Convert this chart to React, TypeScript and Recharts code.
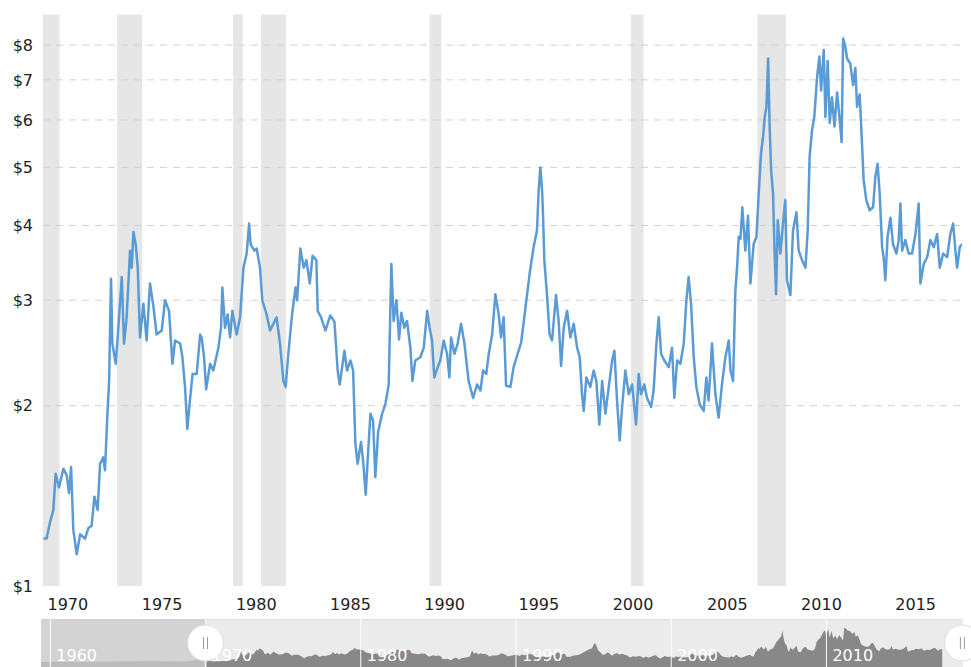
import {
  LineChart,
  Line,
  AreaChart,
  Area,
  XAxis,
  YAxis,
  ReferenceArea,
  ReferenceLine,
  ReferenceDot,
} from "recharts";

// decimal year of each reading
const years = [
  1968.7, 1968.87, 1969.06, 1969.23, 1969.35, 1969.53, 1969.76, 1969.94, 1970.06, 1970.17,
  1970.29, 1970.47, 1970.65, 1970.91, 1971.09, 1971.26, 1971.41, 1971.58, 1971.71, 1971.88,
  1971.97, 1972.1, 1972.19, 1972.24, 1972.29, 1972.36, 1972.54, 1972.68, 1972.86, 1972.98,
  1973.12, 1973.3, 1973.39, 1973.48, 1973.6, 1973.71, 1973.83, 1974.01, 1974.18, 1974.36,
  1974.54, 1974.71, 1974.98, 1975.16, 1975.37, 1975.55, 1975.69, 1975.96, 1976.08, 1976.22,
  1976.34, 1976.49, 1976.62, 1976.84, 1977.02, 1977.1, 1977.23, 1977.34, 1977.55, 1977.72,
  1977.99, 1978.13, 1978.2, 1978.34, 1978.48, 1978.61, 1978.73, 1978.96, 1979.14, 1979.32,
  1979.49, 1979.62, 1979.7, 1979.9, 1980.02, 1980.2, 1980.32, 1980.55, 1980.73, 1980.91,
  1981.08, 1981.26, 1981.44, 1981.56, 1981.7, 1981.9, 1982.08, 1982.17, 1982.34, 1982.52,
  1982.66, 1982.84, 1982.99, 1983.19, 1983.26, 1983.44, 1983.67, 1983.93, 1984.15, 1984.32,
  1984.43, 1984.68, 1984.82, 1985.0, 1985.14, 1985.26, 1985.38, 1985.56, 1985.67, 1985.81,
  1985.91, 1986.06, 1986.2, 1986.32, 1986.47, 1986.68, 1986.85, 1987.03, 1987.17, 1987.29,
  1987.44, 1987.58, 1987.7, 1987.86, 1988.0, 1988.18, 1988.29, 1988.44, 1988.71, 1988.89,
  1989.07, 1989.2, 1989.33, 1989.45, 1989.63, 1989.77, 1989.95, 1990.13, 1990.25, 1990.34,
  1990.52, 1990.69, 1990.87, 1991.05, 1991.27, 1991.51, 1991.72, 1991.9, 1992.04, 1992.21,
  1992.34, 1992.52, 1992.69, 1992.87, 1992.99, 1993.13, 1993.26, 1993.49, 1993.66, 1993.87,
  1994.06, 1994.28, 1994.51, 1994.72, 1994.9, 1994.99, 1995.08, 1995.17, 1995.22, 1995.29,
  1995.44, 1995.57, 1995.7, 1995.79, 1995.91, 1996.05, 1996.18, 1996.32, 1996.5, 1996.67,
  1996.85, 1997.03, 1997.17, 1997.29, 1997.38, 1997.52, 1997.73, 1997.91, 1998.05, 1998.21,
  1998.36, 1998.53, 1998.71, 1998.89, 1999.01, 1999.15, 1999.29, 1999.42, 1999.59, 1999.77,
  1999.95, 2000.16, 2000.3, 2000.42, 2000.6, 2000.74, 2000.96, 2001.09, 2001.24, 2001.36,
  2001.49, 2001.66, 2001.89, 2002.07, 2002.19, 2002.34, 2002.51, 2002.69, 2002.83, 2002.95,
  2003.08, 2003.22, 2003.36, 2003.54, 2003.75, 2003.89, 2004.01, 2004.19, 2004.37, 2004.54,
  2004.72, 2004.9, 2005.08, 2005.17, 2005.31, 2005.43, 2005.52, 2005.61, 2005.7, 2005.8,
  2005.96, 2006.1, 2006.23, 2006.4, 2006.55, 2006.67, 2006.79, 2006.9, 2006.99, 2007.08,
  2007.17, 2007.25, 2007.33, 2007.43, 2007.5, 2007.59, 2007.68, 2007.82, 2007.96, 2008.08,
  2008.17, 2008.35, 2008.49, 2008.67, 2008.79, 2008.97, 2009.15, 2009.27, 2009.37, 2009.5,
  2009.62, 2009.77, 2009.89, 2009.98, 2010.12, 2010.21, 2010.33, 2010.44, 2010.56, 2010.69,
  2010.83, 2010.97, 2011.07, 2011.15, 2011.27, 2011.36, 2011.53, 2011.68, 2011.8, 2011.89,
  2012.03, 2012.16, 2012.24, 2012.38, 2012.56, 2012.74, 2012.86, 2012.98, 2013.09, 2013.22,
  2013.3, 2013.39, 2013.51, 2013.66, 2013.8, 2013.98, 2014.1, 2014.19, 2014.28, 2014.45,
  2014.63, 2014.81, 2014.99, 2015.16, 2015.25, 2015.43, 2015.61, 2015.78, 2015.96, 2016.14,
  2016.28, 2016.46, 2016.67, 2016.84, 2016.99, 2017.11, 2017.2, 2017.34, 2017.46,
];

// price in dollars per bushel, same order as years
const prices = [
  1.2, 1.2, 1.28, 1.34, 1.54, 1.46, 1.57, 1.53, 1.43, 1.58,
  1.24, 1.13, 1.22, 1.2, 1.25, 1.26, 1.41, 1.34, 1.6, 1.64,
  1.56, 1.94, 2.2, 2.7, 3.26, 2.54, 2.35, 2.7, 3.28, 2.54,
  2.81, 3.63, 3.4, 3.9, 3.72, 3.4, 2.6, 2.96, 2.57, 3.2,
  2.93, 2.63, 2.67, 3.0, 2.88, 2.35, 2.57, 2.54, 2.41, 2.15,
  1.83, 2.06, 2.26, 2.26, 2.63, 2.6, 2.41, 2.13, 2.35, 2.29,
  2.5, 2.7, 3.15, 2.7, 2.84, 2.6, 2.88, 2.63, 2.81, 3.4,
  3.59, 4.03, 3.72, 3.63, 3.66, 3.4, 3.0, 2.84, 2.67, 2.74,
  2.81, 2.54, 2.2, 2.15, 2.44, 2.84, 3.15, 3.0, 3.66, 3.4,
  3.5, 3.2, 3.56, 3.5, 2.88, 2.81, 2.67, 2.83, 2.76, 2.29,
  2.17, 2.47, 2.29, 2.38, 2.29, 1.73, 1.6, 1.74, 1.62, 1.42,
  1.62, 1.94, 1.89, 1.52, 1.81, 1.94, 2.01, 2.17, 3.45, 2.77,
  3.0, 2.58, 2.86, 2.7, 2.77, 2.5, 2.2, 2.38, 2.41, 2.5,
  2.88, 2.7, 2.57, 2.23, 2.32, 2.38, 2.57, 2.44, 2.23, 2.6,
  2.44, 2.54, 2.74, 2.54, 2.2, 2.06, 2.17, 2.12, 2.29, 2.26,
  2.44, 2.63, 3.07, 2.84, 2.6, 2.81, 2.16, 2.15, 2.32, 2.44,
  2.55, 2.9, 3.32, 3.68, 3.92, 4.58, 5.0, 4.58, 4.18, 3.5,
  3.04, 2.63, 2.57, 2.77, 3.06, 2.77, 2.33, 2.7, 2.88, 2.6,
  2.74, 2.5, 2.41, 2.09, 1.96, 2.23, 2.15, 2.29, 2.2, 1.86,
  2.2, 1.94, 2.15, 2.38, 2.47, 2.04, 1.75, 1.99, 2.29, 2.09,
  2.17, 1.86, 2.26, 2.09, 2.17, 2.06, 1.99, 2.12, 2.54, 2.81,
  2.44, 2.38, 2.32, 2.5, 2.06, 2.38, 2.35, 2.54, 3.0, 3.28,
  2.96, 2.41, 2.15, 2.01, 1.96, 2.23, 2.04, 2.54, 2.09, 1.91,
  2.17, 2.41, 2.57, 2.29, 2.2, 3.11, 3.4, 3.83, 3.8, 4.29,
  3.63, 4.15, 3.2, 3.72, 3.83, 4.52, 5.27, 5.62, 6.07, 6.31,
  7.6, 5.85, 4.94, 4.52, 3.72, 3.07, 4.08, 3.59, 4.03, 4.41,
  3.24, 3.06, 3.92, 4.21, 3.63, 3.5, 3.4, 3.92, 5.2, 5.77,
  6.07, 7.08, 7.66, 6.72, 7.85, 6.07, 7.53, 5.93, 6.55, 5.85,
  6.67, 6.0, 5.51, 8.21, 7.95, 7.6, 7.45, 6.86, 7.33, 6.31,
  6.62, 5.41, 4.76, 4.41, 4.24, 4.29, 4.82, 5.07, 4.52, 3.68,
  3.54, 3.24, 3.83, 4.12, 3.72, 3.59, 3.78, 4.35, 3.63, 3.78,
  3.59, 3.59, 3.87, 4.35, 3.2, 3.45, 3.54, 3.78, 3.68, 3.87,
  3.4, 3.59, 3.54, 3.87, 4.03, 3.63, 3.4, 3.68, 3.72,
];

// earlier history only visible in the navigator strip
const earlyYears = [1959.4, 1961, 1962.5, 1964, 1965.5, 1966.5, 1967.5, 1968.5];
const earlyPrices = [1.05, 1.08, 1.1, 1.14, 1.18, 1.3, 1.2, 1.15];

// shaded periods
const bandStarts = [1968.68, 1972.61, 1978.77, 1980.25, 1989.2, 1999.89, 2006.6];
const bandEnds = [1969.56, 1973.94, 1979.28, 1981.58, 1989.82, 2000.56, 2008.12];

const priceTicks = [1, 2, 3, 4, 5, 6, 7, 8];
const gridPrices = [2, 3, 4, 5, 6, 7, 8];
const yearTicks = [1970, 1975, 1980, 1985, 1990, 1995, 2000, 2005, 2010, 2015];
const decades = [1960, 1970, 1980, 1990, 2000, 2010];

const LINE_COLOR = "#5b9bd5";
const TEXT_COLOR = "#222222";
const NAV_SPLIT = 1970;

function Handle(props: any) {
  const { cx, cy } = props;
  return (
    <g>
      <circle cx={cx} cy={cy} r={18} fill="#ffffff" stroke="#dddddd" />
      <line x1={cx - 2} x2={cx - 2} y1={cy - 6} y2={cy + 6} stroke="#999999" />
      <line x1={cx + 2} x2={cx + 2} y1={cy - 6} y2={cy + 6} stroke="#999999" />
    </g>
  );
}

export default function App() {
  const series = years.map((year, i) => ({ year, price: prices[i] }));

  const navData = [
    ...earlyYears.map((year, i) => ({ year, price: earlyPrices[i] })),
    ...series,
  ].map((d) => ({
    year: d.year,
    left: d.year <= NAV_SPLIT ? d.price : null,
    right: d.year >= NAV_SPLIT ? d.price : null,
  }));

  return (
    <div
      style={{
        position: "relative",
        width: 971,
        height: 667,
        overflow: "hidden",
        background: "#fff",
        fontFamily: "'DejaVu Sans', Verdana, sans-serif",
      }}
    >
      <style>{"body{margin:0}"}</style>

      {/* Main price chart */}
      <div style={{ position: "absolute", left: 0, top: 0 }}>
        <LineChart
          width={971}
          height={616}
          data={series}
          margin={{ top: 14.5, right: 9, left: 0, bottom: 0 }}
        >
          <XAxis
            type="number"
            dataKey="year"
            domain={[1968.68, 2017.46]}
            ticks={yearTicks}
            allowDataOverflow
            axisLine={false}
            tickLine={false}
            tickSize={0}
            tickMargin={13}
            height={30}
            tick={{ fill: TEXT_COLOR, fontSize: 16 }}
          />
          <YAxis
            type="number"
            scale="log"
            domain={[1, 9]}
            ticks={priceTicks}
            allowDataOverflow
            axisLine={false}
            tickLine={false}
            tickSize={0}
            tickMargin={10}
            width={43}
            tick={{ fill: TEXT_COLOR, fontSize: 16 }}
            tickFormatter={(v: number) => `$${v}`}
          />
          {bandStarts.map((start, i) => (
            <ReferenceArea
              key={`band-${i}`}
              x1={start}
              x2={bandEnds[i]}
              fill="#e6e6e6"
              fillOpacity={1}
              stroke="none"
            />
          ))}
          {gridPrices.map((p) => (
            <ReferenceLine
              key={`grid-${p}`}
              y={p}
              stroke="#d2d2d2"
              strokeDasharray="7 6"
            />
          ))}
          <Line
            type="linear"
            dataKey="price"
            stroke={LINE_COLOR}
            strokeWidth={2.5}
            strokeLinejoin="round"
            dot={false}
            activeDot={false}
            isAnimationActive={false}
          />
        </LineChart>
      </div>

      {/* Navigator strip */}
      <div style={{ position: "absolute", left: 0, top: 619 }}>
        <AreaChart
          width={971}
          height={48}
          data={navData}
          margin={{ top: 0, right: 8, left: 41, bottom: 0 }}
        >
          <XAxis type="number" dataKey="year" domain={[1959.4, 2018.8]} hide allowDataOverflow />
          <YAxis type="number" domain={[0, 10]} hide allowDataOverflow />
          <ReferenceArea x1={1959.4} x2={NAV_SPLIT} y1={0} y2={10} fill="#d3d3d3" fillOpacity={1} stroke="none" />
          <ReferenceArea x1={NAV_SPLIT} x2={2018.8} y1={0} y2={10} fill="#ebebeb" fillOpacity={1} stroke="none" />
          <ReferenceLine y={10} stroke="#cfcfcf" />
          <Area
            type="linear"
            dataKey="left"
            stroke="none"
            fill="#bcbcbc"
            fillOpacity={1}
            isAnimationActive={false}
          />
          <Area
            type="linear"
            dataKey="right"
            stroke="none"
            fill="#888888"
            fillOpacity={1}
            isAnimationActive={false}
          />
          {decades.map((d) => (
            <ReferenceLine
              key={`dec-${d}`}
              x={d}
              stroke="#ffffff"
              label={{
                value: String(d),
                position: "insideBottomLeft",
                fill: "#ffffff",
                fontSize: 16,
                offset: 6,
              }}
            />
          ))}
          <ReferenceDot x={NAV_SPLIT} y={5} r={18} shape={Handle} />
          <ReferenceDot x={2018.76} y={5} r={18} shape={Handle} />
        </AreaChart>
      </div>
    </div>
  );
}
